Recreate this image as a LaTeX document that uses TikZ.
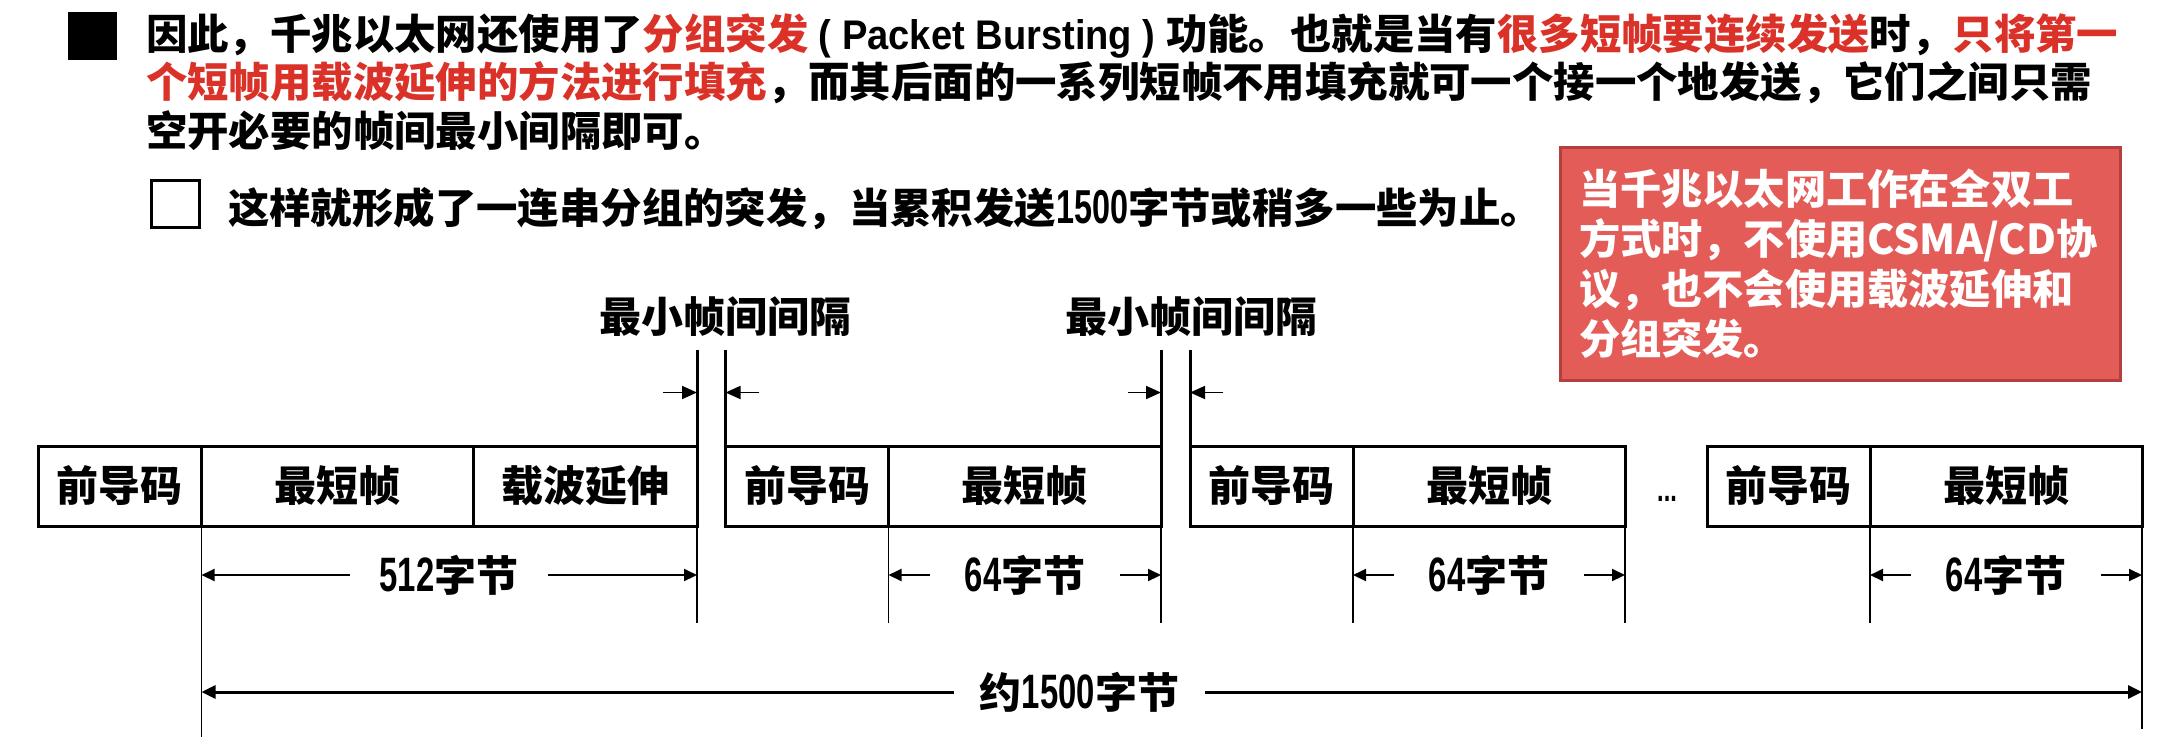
\documentclass[tikz,border=0pt]{standalone}
\usepackage{fontspec}
\setmainfont{Noto Sans CJK SC}
\newfontfamily\narrowlat{Liberation Sans}[FakeStretch=0.68, Scale=1.15]
\newfontfamily\widelat{Liberation Sans}[FakeStretch=0.92]
\usetikzlibrary{arrows.meta}
\definecolor{hlred}{RGB}{218,50,40}
\definecolor{notefill}{RGB}{228,92,88}
\definecolor{noteedge}{RGB}{178,64,60}
\newcommand\hl[1]{\textcolor{hlred}{#1}}
\newcommand\numtxt[1]{{\narrowlat #1}}

\begin{document}
\begin{tikzpicture}[x=0.5pt,y=-0.5pt,
  every node/.style={inner sep=0pt, outer sep=0pt,
    font=\bfseries\fontsize{20.7pt}{24pt}\selectfont},
  para/.style={anchor=base west},
  notetext/.style={anchor=base west, text=white,
    font=\bfseries\fontsize{20.6pt}{24pt}\selectfont},
  cell/.style={draw, line width=1.5pt, minimum height=40pt, anchor=west,
    font=\bfseries\fontsize{21pt}{25pt}\selectfont},
  gaplabel/.style={font=\bfseries\fontsize{21pt}{25pt}\selectfont},
  dimlabel/.style={font=\bfseries\fontsize{21pt}{25pt}\selectfont, inner xsep=15pt},
  dimlabelshort/.style={dimlabel, inner xsep=17.5pt},
  gapline/.style={line width=1.5pt},
  extline/.style={line width=0.7pt},
  dimarrow/.style={line width=1pt, -{Triangle[length=6.5pt,width=6pt]}},
  totalarrow/.style={line width=1.5pt, -{Triangle[length=7pt,width=6.5pt]}},
  gaparrow/.style={line width=0.9pt, -{Triangle[length=7.5pt,width=6.5pt]}}
]
\useasboundingbox (0,0) rectangle (2184,746);

% ---- bullets and paragraph text ----
\node[fill=black, minimum width=24.5pt, minimum height=24pt] (bulA) at (92.5,35.5) {};
\node[draw, line width=1.1pt, minimum width=24pt, minimum height=23.5pt] (bulB) at (175.5,204) {};

\node[para] (t1) at (146,49.5) {因此，千兆以太网还使用了\hl{分组突发}{\widelat\ ( Packet Bursting )\ }功能。也就是当有\hl{很多短帧要连续发送}时，\hl{只将第一}};
\node[para] (t2) at (146,97.5) {\hl{个短帧用载波延伸的方法进行填充}，而其后面的一系列短帧不用填充就可一个接一个地发送，它们之间只需};
\node[para] (t3) at (146,146) {空开必要的帧间最小间隔即可。};
\node[para] (t4) at (228,223.5) {这样就形成了一连串分组的突发，当累积发送\numtxt{1500}字节或稍多一些为止。};

% ---- note box ----
\node[fill=notefill, draw=noteedge, line width=1.5pt,
      minimum width=280pt, minimum height=116.5pt] (note) at (1840,263.5) {};
\node[notetext] (n1) at (1579,204.5) {当千兆以太网工作在全双工};
\node[notetext] (n2) at (1579,254.5) {方式时，不使用CSMA/CD协};
\node[notetext] (n3) at (1579,304.5) {议，也不会使用载波延伸和};
\node[notetext] (n4) at (1579,354.5) {分组突发。};

% ---- frame row ----
\node[cell, minimum width=81.75pt] (pa1) at (38,486) {前导码};
\node[cell, minimum width=136pt]   (fa1) at (pa1.east) {最短帧};
\node[cell, minimum width=111.75pt] (ca1) at (fa1.east) {载波延伸};

\node[cell, minimum width=81.5pt]  (pa2) at (725.5,486) {前导码};
\node[cell, minimum width=136.25pt] (fa2) at (pa2.east) {最短帧};

\node[cell, minimum width=81.5pt]  (pa3) at (1190,486) {前导码};
\node[cell, minimum width=136pt]   (fa3) at (pa3.east) {最短帧};

\node[cell, minimum width=81.5pt]  (pa4) at (1707,486) {前导码};
\node[cell, minimum width=136pt]   (fa4) at (pa4.east) {最短帧};

\node[anchor=base, font=\bfseries\fontsize{15pt}{18pt}\selectfont\narrowlat] (dots) at (1667,501) {...};

% ---- inter-frame gaps ----
\coordinate (gaptop) at (0,350);
\node[gaplabel] (gl1) at (725,317) {最小帧间间隔};
\node[gaplabel] (gl2) at (1191,317) {最小帧间间隔};

\draw[gapline] (ca1.north east) -- (ca1.north east |- gaptop);
\draw[gapline] (pa2.north west) -- (pa2.north west |- gaptop);
\draw[gapline] (fa2.north east) -- (fa2.north east |- gaptop);
\draw[gapline] (pa3.north west) -- (pa3.north west |- gaptop);

\coordinate (ga1) at (663,392.5);
\coordinate (ga2) at (759,392.5);
\coordinate (ga3) at (1128,392.5);
\coordinate (ga4) at (1223,392.5);
\draw[gaparrow] (ga1) -- (ga1 -| ca1.east);
\draw[gaparrow] (ga2) -- (ga2 -| pa2.west);
\draw[gaparrow] (ga3) -- (ga3 -| fa2.east);
\draw[gaparrow] (ga4) -- (ga4 -| pa3.west);

% ---- extension lines ----
\coordinate (extbot) at (0,623);
\coordinate (totbotL) at (0,737);
\coordinate (totbotR) at (0,729);
\draw[extline] (fa1.south west) -- (fa1.south west |- totbotL);
\draw[extline] (ca1.south east) -- (ca1.south east |- extbot);
\draw[extline] (pa2.south east) -- (pa2.south east |- extbot);
\draw[extline] (fa2.south east) -- (fa2.south east |- extbot);
\draw[extline] (pa3.south east) -- (pa3.south east |- extbot);
\draw[extline] (fa3.south east) -- (fa3.south east |- extbot);
\draw[extline] (pa4.south east) -- (pa4.south east |- extbot);
\draw[extline] (fa4.south east) -- (fa4.south east |- totbotR);

% ---- length dimensions ----
\node[dimlabel] (d512) at (449,575) {\numtxt{512}字节};
\draw[dimarrow] (d512.west) -- (d512.west -| fa1.south west);
\draw[dimarrow] (d512.east) -- (d512.east -| ca1.south east);

\node[dimlabelshort] (d64a) at (1025,575) {\numtxt{64}字节};
\draw[dimarrow] (d64a.west) -- (d64a.west -| pa2.south east);
\draw[dimarrow] (d64a.east) -- (d64a.east -| fa2.south east);

\node[dimlabelshort] (d64b) at (1489,575) {\numtxt{64}字节};
\draw[dimarrow] (d64b.west) -- (d64b.west -| pa3.south east);
\draw[dimarrow] (d64b.east) -- (d64b.east -| fa3.south east);

\node[dimlabelshort] (d64c) at (2006,575) {\numtxt{64}字节};
\draw[dimarrow] (d64c.west) -- (d64c.west -| pa4.south east);
\draw[dimarrow] (d64c.east) -- (d64c.east -| fa4.south east);

\node[dimlabel, inner xsep=13pt] (dtot) at (1079.5,692) {约\numtxt{1500}字节};
\draw[totalarrow] (dtot.west) -- (dtot.west -| fa1.south west);
\draw[totalarrow] (dtot.east) -- (dtot.east -| fa4.south east);
\end{tikzpicture}
\end{document}
